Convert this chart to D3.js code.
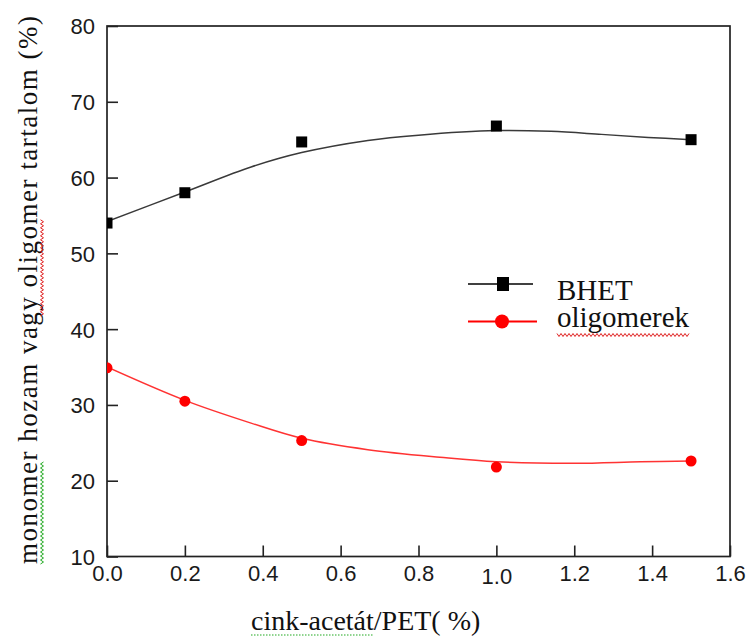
<!DOCTYPE html>
<head>
  <meta charset="utf-8">
  <script src="https://d3js.org/d3.v7.min.js"></script>
  <style>
    body { margin: 0; background: #ffffff; }
    .tick text { font: 22px "Liberation Sans", Arial, sans-serif; fill: #1a1a1a; }
    .tick line { stroke: #222; stroke-width: 1.6; }
    .serif { font-family: "Liberation Serif", "Times New Roman", serif; fill: #111; }
  </style>
</head>
<body>
<script>
  // adatok
  var katalizator = [0, 0.2, 0.5, 1.0, 1.5];
  var bhet = [54.0, 58.0, 64.7, 66.8, 65.0];
  var oligomerek = [34.9, 30.5, 25.3, 21.8, 22.6];

  // illesztett görbék pontjai, szintén a képről
  var bhetFitX = [0, 0.2, 0.37, 0.5, 0.67, 0.8, 1.0, 1.14, 1.27, 1.39, 1.5];
  var bhetFitY = [54.2, 58.1, 61.4, 63.3, 64.9, 65.6, 66.2, 66.1, 65.7, 65.3, 65.0];
  var oligoFitX = [0, 0.2, 0.37, 0.5, 0.67, 0.855, 1.0, 1.2, 1.37, 1.5];
  var oligoFitY = [35.0, 30.6, 27.6, 25.6, 24.1, 23.1, 22.5, 22.3, 22.5, 22.6];

  var xTicks = [0, 0.2, 0.4, 0.6, 0.8, 1.0, 1.2, 1.4, 1.6];
  var yTicks = [10, 20, 30, 40, 50, 60, 70, 80];

  var w = 749, h = 637;
  var pLeft = 107, pRight = 730, pTop = 26, pBottom = 556.5;

  var svg = d3.select("body").append("svg")
    .attr("width", w)
    .attr("height", h);

  var x = d3.scaleLinear().domain([0, 1.6]).range([pLeft, pRight]);
  var y = d3.scaleLinear().domain([10, 80]).range([pBottom, pTop]);

  svg.append("clipPath").attr("id", "plot")
    .append("rect")
    .attr("x", pLeft).attr("y", pTop)
    .attr("width", pRight - pLeft).attr("height", pBottom - pTop);

  // tengelyek, befelé mutató osztásokkal
  var gy = svg.append("g")
    .attr("transform", "translate(" + pLeft + ",0)")
    .call(d3.axisLeft(y).tickValues(yTicks).tickSizeInner(-11).tickSizeOuter(0).tickPadding(12));
  gy.select(".domain").remove();
  gy.selectAll(".tick text").attr("dy", "0.36em");

  var gx = svg.append("g")
    .attr("transform", "translate(0," + pBottom + ")")
    .call(d3.axisBottom(x).tickValues(xTicks).tickFormat(d3.format(".1f"))
      .tickSizeInner(-11).tickSizeOuter(0).tickPadding(9));
  gx.select(".domain").remove();
  gx.selectAll(".tick text").attr("dy", function(d) { return d === 1.0 ? "0.86em" : "0.71em"; });

  svg.append("rect")
    .attr("x", pLeft).attr("y", pTop)
    .attr("width", pRight - pLeft).attr("height", pBottom - pTop)
    .attr("fill", "none")
    .attr("stroke", "#222")
    .attr("stroke-width", 1.7);

  var line = d3.line()
    .x(function(d) { return x(d[0]); })
    .y(function(d) { return y(d[1]); })
    .curve(d3.curveCatmullRom.alpha(0.5));

  var plot = svg.append("g").attr("clip-path", "url(#plot)");

  plot.append("path")
    .datum(d3.zip(bhetFitX, bhetFitY))
    .attr("d", line)
    .attr("fill", "none")
    .attr("stroke", "#3a3a3a")
    .attr("stroke-width", 1.5);

  plot.append("path")
    .datum(d3.zip(oligoFitX, oligoFitY))
    .attr("d", line)
    .attr("fill", "none")
    .attr("stroke", "#ff3333")
    .attr("stroke-width", 1.5);

  plot.selectAll("rect.bhet")
    .data(d3.zip(katalizator, bhet))
    .enter().append("rect")
    .attr("class", "bhet")
    .attr("x", function(d) { return x(d[0]) - 5.5; })
    .attr("y", function(d) { return y(d[1]) - 5.5; })
    .attr("width", 11).attr("height", 11)
    .attr("fill", "#000");

  plot.selectAll("circle.oligo")
    .data(d3.zip(katalizator, oligomerek))
    .enter().append("circle")
    .attr("class", "oligo")
    .attr("cx", function(d) { return x(d[0]); })
    .attr("cy", function(d) { return y(d[1]); })
    .attr("r", 5.5)
    .attr("fill", "#ff0000");

  // jelmagyarázat
  var lg = svg.append("g");
  lg.append("line").attr("x1", 468).attr("x2", 533).attr("y1", 284).attr("y2", 284)
    .attr("stroke", "#000").attr("stroke-width", 1.6);
  lg.append("rect").attr("x", 497).attr("y", 277).attr("width", 12).attr("height", 14).attr("fill", "#000");
  lg.append("text").attr("class", "serif").attr("x", 557).attr("y", 300)
    .style("font-size", "29px").text("BHET");
  lg.append("line").attr("x1", 468).attr("x2", 537).attr("y1", 321.5).attr("y2", 321.5)
    .attr("stroke", "#ff0000").attr("stroke-width", 1.8);
  lg.append("circle").attr("cx", 502).attr("cy", 321.5).attr("r", 7).attr("fill", "#ff0000");
  var oligoText = lg.append("text").attr("class", "serif").attr("x", 557).attr("y", 327)
    .style("font-size", "29px").text("oligomerek");

  // tengelyfeliratok
  var xTitle = svg.append("text").attr("class", "serif")
    .attr("x", 251).attr("y", 630)
    .style("font-size", "28px")
    .text("cink-acetát/PET( %)");

  var yTitle = svg.append("text").attr("class", "serif")
    .attr("transform", "translate(37,290) rotate(-90)")
    .attr("text-anchor", "middle")
    .attr("textLength", 548)
    .attr("lengthAdjust", "spacing")
    .style("font-size", "27px")
    .text("monomer hozam vagy oligomer tartalom  (%)");

  // helyesírás-ellenőrző hullámvonalak
  function wave(x0, x1, yy, color) {
    var pts = [];
    for (var i = 0; x0 + i * 2 <= x1; i++) pts.push([x0 + i * 2, yy + (i % 2 ? 1.5 : -1.5)]);
    return svg.append("path").attr("d", d3.line()(pts))
      .attr("fill", "none").attr("stroke", color).attr("stroke-width", 1);
  }
  var ob = oligoText.node().getBBox();
  wave(ob.x, ob.x + ob.width, 335, "#e02020");

  var xb = xTitle.node();
  var ckLen = xb.getSubStringLength(0, 11);
  svg.append("line").attr("x1", 251).attr("x2", 251 + ckLen).attr("y1", 635).attr("y2", 635)
    .attr("stroke", "#22aa22").attr("stroke-width", 1.2).attr("stroke-dasharray", "1.5,1.5");

  // a függőleges felirat alatti jelek (elforgatott koordinátákban)
  var yn = yTitle.node();
  var s0 = -274;
  var monoEnd = yn.getSubStringLength(0, 7);
  var oliStart = yn.getSubStringLength(0, 19);
  var oliLen = yn.getSubStringLength(19, 8);
  wave(s0, s0 + monoEnd, 0, "#22aa22").attr("transform", "translate(42,290) rotate(-90)");
  wave(s0 + oliStart, s0 + oliStart + oliLen, 0, "#e02020").attr("transform", "translate(42,290) rotate(-90)");
</script>
</body>
